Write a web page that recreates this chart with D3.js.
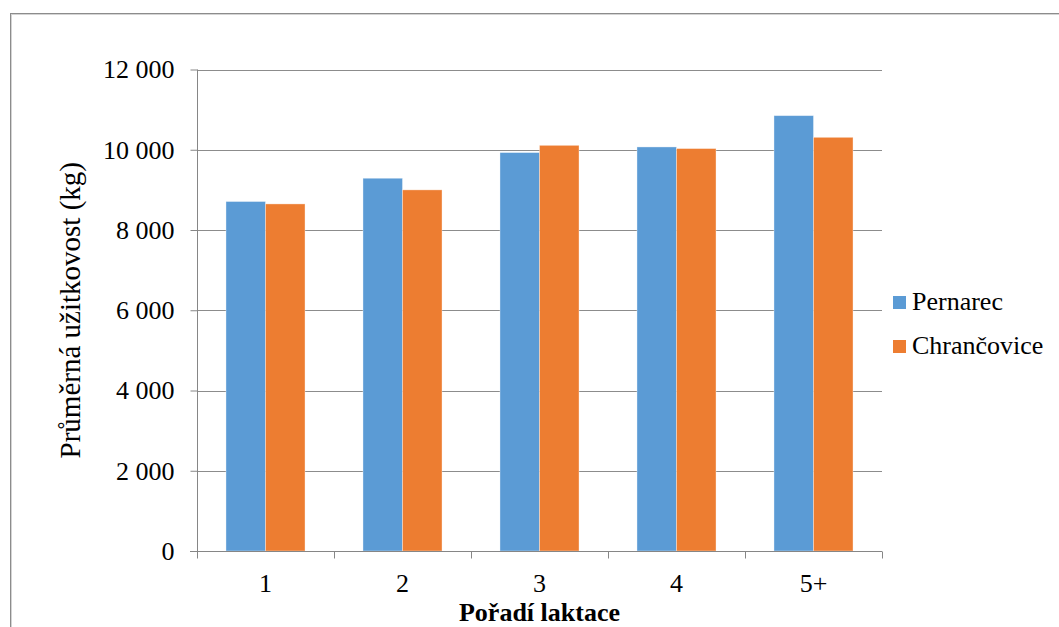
<!DOCTYPE html>
<html>
<head>
<meta charset="utf-8">
<script src="https://cdn.jsdelivr.net/npm/d3@7"></script>
<style>
  html, body { margin: 0; padding: 0; background: #fff; }
  svg { display: block; }
</style>
</head>
<body>
<svg id="chart" width="1059" height="627" font-family="'Liberation Serif', 'Times New Roman', serif"></svg>
<script>
// Average milk yield by lactation order, two farms
const categories = ["1", "2", "3", "4", "5+"];
const seriesNames = ["Pernarec", "Chrančovice"];
const pernarec = [8710, 9290, 9930, 10070, 10850];
const chrancovice = [8650, 9000, 10110, 10030, 10310];
const yTicks = [0, 2000, 4000, 6000, 8000, 10000, 12000];
const colors = ["#5B9BD5", "#ED7D31"];

const SERIF = "'Liberation Serif', 'Times New Roman', serif";
const svg = d3.select("#chart");
const W = 1059, H = 627;
const plot = { left: 197, right: 882, top: 69.5, bottom: 551 };

// outer frame
svg.append("rect").attr("x", 10.5).attr("y", 13.5).attr("width", W).attr("height", H)
  .attr("fill", "none").attr("stroke", "#8c8c8c").attr("stroke-width", 1);
svg.append("rect").attr("x", 11.5).attr("y", 14.5).attr("width", W).attr("height", H)
  .attr("fill", "none").attr("stroke", "#d4d4d4").attr("stroke-width", 1);

const y = d3.scaleLinear().domain([0, 12000]).range([plot.bottom, plot.top]);
const x = d3.scaleBand().domain(categories).range([plot.left, plot.right])
  .paddingInner(0.423).paddingOuter(0.2115);
const xs = d3.scaleBand().domain(seriesNames).range([0, x.bandwidth()]);

const fmt = v => d3.format(",")(v).replace(/,/g, "\u00a0");

// gridlines
svg.append("g").selectAll("line").data(yTicks.filter(t => t > 0)).join("line")
  .attr("x1", plot.left).attr("x2", plot.right)
  .attr("y1", d => Math.round(y(d)) + 0.5).attr("y2", d => Math.round(y(d)) + 0.5)
  .attr("stroke", "#8c8c8c").attr("stroke-width", 1);

// bars
const rows = categories.map((c, i) => ({ c, vals: [pernarec[i], chrancovice[i]] }));
const groups = svg.append("g").selectAll("g").data(rows).join("g")
  .attr("transform", d => `translate(${x(d.c)},0)`);
groups.selectAll("rect").data(d => d.vals.map((v, j) => ({ v, s: seriesNames[j], j })))
  .join("rect")
  .attr("x", d => xs(d.s))
  .attr("width", xs.bandwidth())
  .attr("y", d => y(d.v))
  .attr("height", d => y(0) - y(d.v))
  .attr("fill", d => colors[d.j])
  .attr("stroke", "#ffffff").attr("stroke-opacity", 0.45).attr("stroke-width", 0.8);

// y axis
const yAxis = d3.axisLeft(y).tickValues(yTicks).tickSize(7).tickPadding(16).tickFormat(fmt);
const gy = svg.append("g").attr("transform", `translate(${plot.left + 0.5},0)`).call(yAxis);
gy.attr("font-family", SERIF).attr("font-size", 26);
gy.select(".domain").attr("stroke", "#868686").attr("d", `M0,${plot.top}V${plot.bottom + 7}`);
gy.selectAll(".tick line").attr("stroke", "#868686");
gy.selectAll(".tick text").attr("font-family", SERIF).attr("font-size", 26).attr("fill", "#000");

// x axis
const gx = svg.append("g").attr("transform", `translate(0,${plot.bottom + 0.5})`);
gx.append("line").attr("x1", plot.left - 7).attr("x2", plot.right).attr("y1", 0).attr("y2", 0)
  .attr("stroke", "#868686");
const bounds = d3.range(categories.length + 1).map(i => plot.left + i * x.step());
gx.selectAll("line.tk").data(bounds).join("line").attr("class", "tk")
  .attr("x1", d => Math.round(d) + 0.5).attr("x2", d => Math.round(d) + 0.5)
  .attr("y1", 0).attr("y2", 7).attr("stroke", "#868686");
gx.selectAll("text").data(categories).join("text")
  .attr("x", d => x(d) + x.bandwidth() / 2).attr("y", 40)
  .attr("text-anchor", "middle").attr("font-family", SERIF).attr("font-size", 26).text(d => d);

// axis titles
svg.append("text").attr("x", (plot.left + plot.right) / 2).attr("y", 621)
  .attr("text-anchor", "middle").attr("font-family", SERIF).attr("font-size", 26)
  .attr("font-weight", "bold")
  .text("Pořadí laktace");
svg.append("text").attr("transform", `translate(80,${(plot.top + plot.bottom) / 2}) rotate(-90)`)
  .attr("text-anchor", "middle").attr("font-family", SERIF).attr("font-size", 29)
  .text("Průměrná užitkovost (kg)");

// legend
const lg = svg.append("g").selectAll("g").data(seriesNames).join("g")
  .attr("transform", (d, i) => `translate(893,${296 + i * 44})`);
lg.append("rect").attr("width", 13).attr("height", 13).attr("fill", (d, i) => colors[i]);
lg.append("text").attr("x", 19).attr("y", 14).attr("font-family", SERIF).attr("font-size", 26)
  .text(d => d);
</script>
</body>
</html>
